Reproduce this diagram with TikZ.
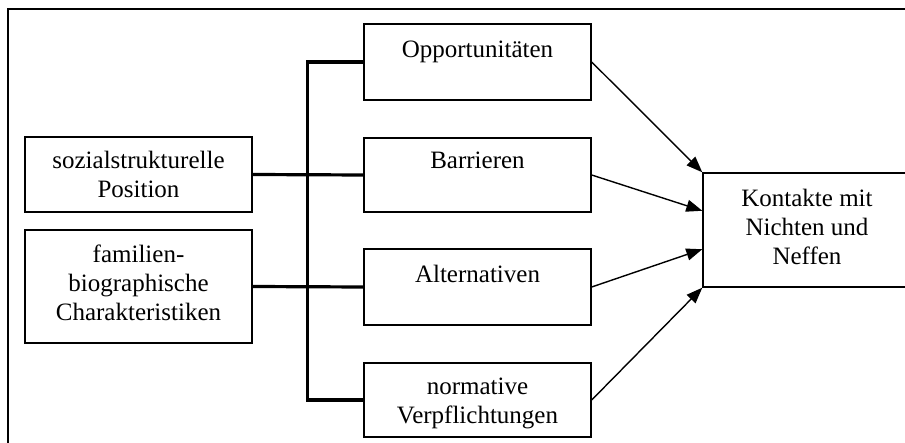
\documentclass[tikz,border=0pt]{standalone}
\usepackage{fontspec}
\setmainfont{Liberation Serif}
\usetikzlibrary{arrows.meta,calc}
\tikzset{
  box/.style={draw, line width=1.4pt, rectangle, inner sep=0pt},
  txt/.style={anchor=north, inner sep=0pt, align=center, font=\fontsize{25}{29}\selectfont},
  conn/.style={line width=3.2pt},
  arr/.style={line width=1.4pt, -{Triangle[length=16pt,width=12pt]}},
  frame/.style={line width=1.4pt}
}
\begin{document}
\begin{tikzpicture}[x=1pt,y=-1pt]
\useasboundingbox (0,0) rectangle (905,443);
\clip (0,0) rectangle (905,443);
\coordinate (ftr) at (905,9);
\coordinate (ftl) at (8,9);
\coordinate (fbl) at (8,443);
\draw[frame] (ftr) -- (ftl) -- (fbl);

% boxes
\node[box, minimum width=227pt, minimum height=75pt] (soz) at (138.5,174.5) {};
\node[box, minimum width=227pt, minimum height=113pt] (fam) at (138.5,286.5) {};
\node[box, minimum width=227pt, minimum height=76pt] (opp) at (477.5,62) {};
\node[box, minimum width=227pt, minimum height=74pt] (barr) at (477.5,175) {};
\node[box, minimum width=227pt, minimum height=76pt] (alt) at (477.5,287) {};
\node[box, minimum width=227pt, minimum height=74pt] (norm) at (477.5,400) {};
\node[box, minimum width=208pt, minimum height=114pt] (kont) at (807,230) {};

% texts (north = baseline - 20.3)
\node[txt] (tsoz) at (138.5,147.7) {\strut sozialstrukturelle\\Position};
\node[txt] (tfam) at (138.5,241.7) {\strut familien-\\biographische\\Charakteristiken};
\node[txt] (topp) at (477.5,36.7) {\strut Opportunitäten};
\node[txt] (tbarr) at (477.5,147.7) {\strut Barrieren};
\node[txt] (talt) at (477.5,261.7) {\strut Alternativen};
\node[txt] (tnorm) at (477.5,373.7) {\strut normative\\Verpflichtungen};
\node[txt] (tkont) at (807,185.7) {\strut Kontakte mit\\Nichten und\\Neffen};

% connectors
\draw[conn] (opp.west) -- ++(-56,0) |- (norm.west);
\draw[conn] (soz.east) -- (barr.west);
\draw[conn] (fam.east) -- (alt.west);

% arrows
\draw[arr] (opp.east) -- (kont.north west);
\draw[arr] (barr.east) -- ($(kont.north west)!1/3!(kont.south west)$);
\draw[arr] (alt.east) -- ($(kont.north west)!2/3!(kont.south west)$);
\draw[arr] (norm.east) -- (kont.south west);
\end{tikzpicture}
\end{document}
